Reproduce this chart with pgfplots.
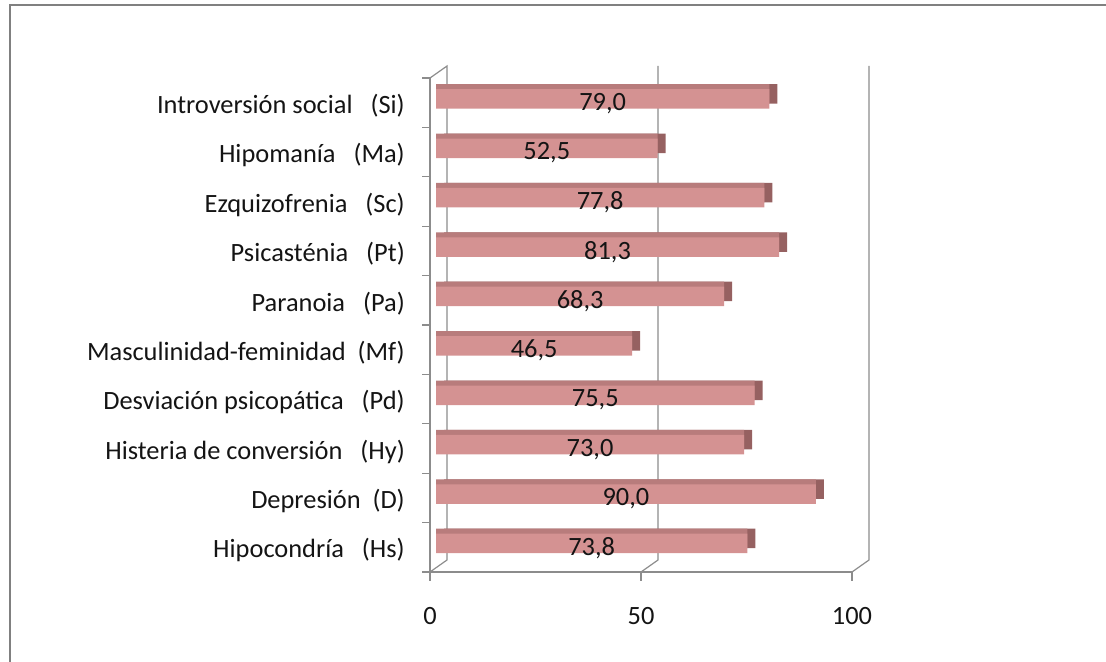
\documentclass[border=0pt]{standalone}
\usepackage{pgfplots}
\pgfplotsset{compat=1.18}
\usepackage{pgfplotstable}
\usepackage{fontspec}
\setmainfont{Carlito}
\definecolor{barfront}{RGB}{212,146,146}
\definecolor{bartop}{RGB}{184,124,124}
\definecolor{barside}{RGB}{150,97,97}
\definecolor{gridc}{RGB}{140,140,140}
\definecolor{framec}{RGB}{128,128,128}
\definecolor{textc}{RGB}{20,20,20}

\pgfplotstableread{
pos val lab
0 73.8 73,8
1 90.0 90,0
2 73.0 73,0
3 75.5 75,5
4 46.5 46,5
5 68.3 68,3
6 81.3 81,3
7 77.8 77,8
8 52.5 52,5
9 79.0 79,0
}\data

\begin{document}
\fontsize{13.2}{15.8}\selectfont
\begin{tikzpicture}
\useasboundingbox (0,0) rectangle (553pt,331pt);
\draw[framec, line width=1pt] (5pt,-5pt) -- (5pt,328.5pt) -- (560pt,328.5pt);
\begin{axis}[
  at={(215pt,45pt)}, anchor=south west,
  scale only axis, width=211pt, height=247pt,
  xmin=0, xmax=100, ymin=-0.5, ymax=9.5,
  clip=false,
  axis lines*=left,
  axis line style={gridc, line width=0.6pt, -},
  tick align=outside,
  xtick={0,50,100},
  ytick={0,1,2,3,4,5,6,7,8,9},
  minor ytick={-0.5,0.5,1.5,2.5,3.5,4.5,5.5,6.5,7.5,8.5,9.5},
  major tick length=4.5pt,
  minor tick length=4pt,
  major y tick style={draw=none},
  minor y tick style={gridc, line width=0.6pt},
  major x tick style={gridc, line width=0.6pt},
  yticklabels={
    Hipocondría\hspace{0.68em}(Hs),
    Depresión\hspace{0.45em}(D),
    Histeria de conversión\hspace{0.68em}(Hy),
    Desviación psicopática\hspace{0.68em}(Pd),
    Masculinidad-feminidad\hspace{0.45em}(Mf),
    Paranoia\hspace{0.68em}(Pa),
    Psicasténia\hspace{0.68em}(Pt),
    Ezquizofrenia\hspace{0.68em}(Sc),
    Hipomanía\hspace{0.68em}(Ma),
    Introversión social\hspace{0.68em}(Si)},
  /pgf/number format/assume math mode=true,
  yticklabel style={anchor=east, xshift=-3.5pt, yshift=-1.5pt, text=textc},
  xticklabel style={anchor=north, yshift=-8.5pt, text=textc},
]
\draw[gridc, line width=0.6pt] (axis cs:0,-0.5) -- ++(8.5pt,6pt) -- ([xshift=8.5pt,yshift=6pt]axis cs:0,9.5) -- (axis cs:0,9.5);
\draw[gridc, line width=0.6pt] (axis cs:50,-0.5) -- ++(8.5pt,6pt) -- ([xshift=8.5pt,yshift=6pt]axis cs:50,9.5);
\draw[gridc, line width=0.6pt] (axis cs:100,-0.5) -- ++(8.5pt,6pt) -- ([xshift=8.5pt,yshift=6pt]axis cs:100,9.5);

\addplot[xbar, bar width=9.75pt, fill=barside, draw=none, xshift=7pt, yshift=4.4pt] table[x=val, y=pos]{\data};
\addplot[xbar, bar width=9.75pt, fill=bartop, draw=none, xshift=3pt, yshift=4.4pt] table[x=val, y=pos]{\data};
\addplot[xbar, bar width=9.75pt, fill=barfront, draw=none, xshift=3pt, yshift=1.9pt] table[x=val, y=pos]{\data};
\addplot[only marks, mark=*, mark size=0pt, mark options={draw=none, fill=none},
  xshift=3pt, yshift=-0.4pt,
  point meta=explicit symbolic,
  nodes near coords,
  every node near coord/.append style={anchor=center, inner sep=0pt, text=textc}]
  table[x expr=\thisrow{val}/2, y=pos, meta=lab]{\data};
\end{axis}
\end{tikzpicture}
\end{document}
